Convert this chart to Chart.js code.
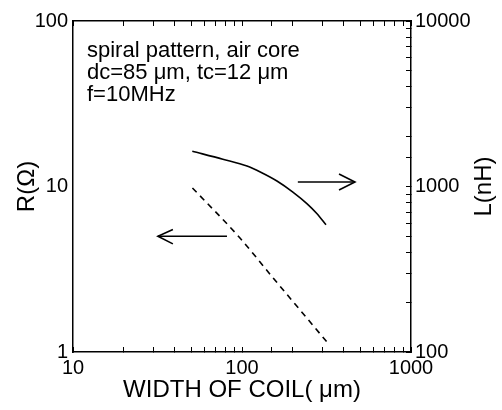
<!doctype html>
<html>
<head>
<meta charset="utf-8">
<title>Width of coil vs R and L</title>
<script src="https://cdn.jsdelivr.net/npm/chart.js@4"></script>
<style>
  body { margin: 0; background: #fff; }
  #wrap { width: 502px; height: 410px; position: relative; }
</style>
</head>
<body>
<div id="wrap"><canvas id="chart"></canvas></div>
<script>
// inductance L(nH), right axis (solid line)
const lWidth = [50.8, 77, 107, 130, 161, 200, 243, 278, 314]
const lValue = [1633, 1462, 1330, 1215, 1079, 925, 785, 684, 587]

// resistance R(ohm), left axis (dashed line)
const rWidth = [50.9, 97, 152, 200, 318]
const rValue = [9.8, 4.9, 2.82, 2.02, 1.15]

// arrows pointing to the axis each curve belongs to
const arrowRightX = [214, 466]
const arrowRightY = [1064, 1064]
const arrowRightHeadX = [375, 466, 375]
const arrowRightHeadY = [1189, 1064, 953]
const arrowLeftX = [81.5, 31.8]
const arrowLeftY = [5, 5]
const arrowLeftHeadX = [39, 31.8, 39]
const arrowLeftHeadY = [5.5, 5, 4.5]

const xTicks = [10, 100, 1000]
const rTicks = [1, 10, 100]
const lTicks = [100, 1000, 10000]

const noteLines = ['spiral pattern, air core', 'dc=85 \u03bcm, tc=12 \u03bcm', 'f=10MHz']

const pts = (xs, ys) => xs.map((x, i) => ({ x, y: ys[i] }))

Chart.defaults.font.family = "'Liberation Sans', Arial, sans-serif"
Chart.defaults.color = '#000'

const line = (data, axis, extra) => Object.assign({
  data, yAxisID: axis, borderColor: '#000', borderWidth: 1.6,
  pointRadius: 0, fill: false
}, extra)

const textPlugin = {
  id: 'notes',
  afterDraw(chart) {
    const { ctx, chartArea } = chart
    ctx.save()
    ctx.fillStyle = '#000'
    ctx.font = "22px 'Liberation Sans', Arial, sans-serif"
    ctx.textBaseline = 'alphabetic'
    noteLines.forEach((t, i) => ctx.fillText(t, chartArea.left + 14, chartArea.top + 36 + i * 22))
    // right axis title, reads bottom to top like the left one
    ctx.font = "24px 'Liberation Sans', Arial, sans-serif"
    ctx.translate(484, (chartArea.top + chartArea.bottom) / 2)
    ctx.rotate(-Math.PI / 2)
    ctx.textAlign = 'center'
    ctx.textBaseline = 'middle'
    ctx.fillText('L(nH)', 0, 0)
    ctx.restore()
  }
}

const onlyDecades = (list) => (v) => list.includes(v) ? String(v) : ''

new Chart(document.getElementById('chart'), {
  type: 'line',
  data: {
    datasets: [
      line(pts(lWidth, lValue), 'y2', { cubicInterpolationMode: 'monotone' }),
      line(pts(rWidth, rValue), 'y', { cubicInterpolationMode: 'monotone', borderDash: [6, 5] }),
      line(pts(arrowRightX, arrowRightY), 'y2'),
      line(pts(arrowRightHeadX, arrowRightHeadY), 'y2'),
      line(pts(arrowLeftX, arrowLeftY), 'y'),
      line(pts(arrowLeftHeadX, arrowLeftHeadY), 'y')
    ]
  },
  options: {
    responsive: true,
    maintainAspectRatio: false,
    animation: false,
    layout: { padding: 0 },
    plugins: { legend: { display: false }, tooltip: { enabled: false } },
    scales: {
      x: {
        type: 'logarithmic', position: 'bottom', min: 10, max: 1000,
        border: { color: '#000', width: 1.5 },
        grid: { drawOnChartArea: false, tickLength: -5, color: '#000', tickWidth: 1 },
        ticks: { autoSkip: false, maxRotation: 0, padding: 9, font: { size: 20 }, callback: onlyDecades(xTicks) },
        title: { display: true, text: 'WIDTH OF COIL( \u03bcm)', font: { size: 24 }, padding: { bottom: 5 } },
        afterFit: (s) => { s.height = 58 }
      },
      x2: {
        type: 'logarithmic', position: 'top', min: 10, max: 1000,
        border: { color: '#000', width: 1.5 },
        grid: { drawOnChartArea: false, tickLength: -5, color: '#000' },
        ticks: { display: false, autoSkip: false },
        afterFit: (s) => { s.height = 19 }
      },
      y: {
        type: 'logarithmic', position: 'left', min: 1, max: 100,
        border: { color: '#000', width: 1.5 },
        grid: { drawOnChartArea: false, drawTicks: false },
        ticks: { autoSkip: false, padding: 5, font: { size: 20 }, callback: onlyDecades(rTicks) },
        title: { display: true, text: 'R(\u03a9)', font: { size: 24 }, padding: { top: 13 } },
        afterFit: (s) => { s.width = 73 }
      },
      y2: {
        type: 'logarithmic', position: 'right', min: 100, max: 10000,
        border: { color: '#000', width: 1.5 },
        grid: { drawOnChartArea: false, tickLength: -5, color: '#000' },
        ticks: { autoSkip: false, padding: 9, font: { size: 20 }, callback: onlyDecades(lTicks) },
        afterFit: (s) => { s.width = 91 }
      }
    }
  },
  plugins: [textPlugin]
})
</script>
</body>
</html>
